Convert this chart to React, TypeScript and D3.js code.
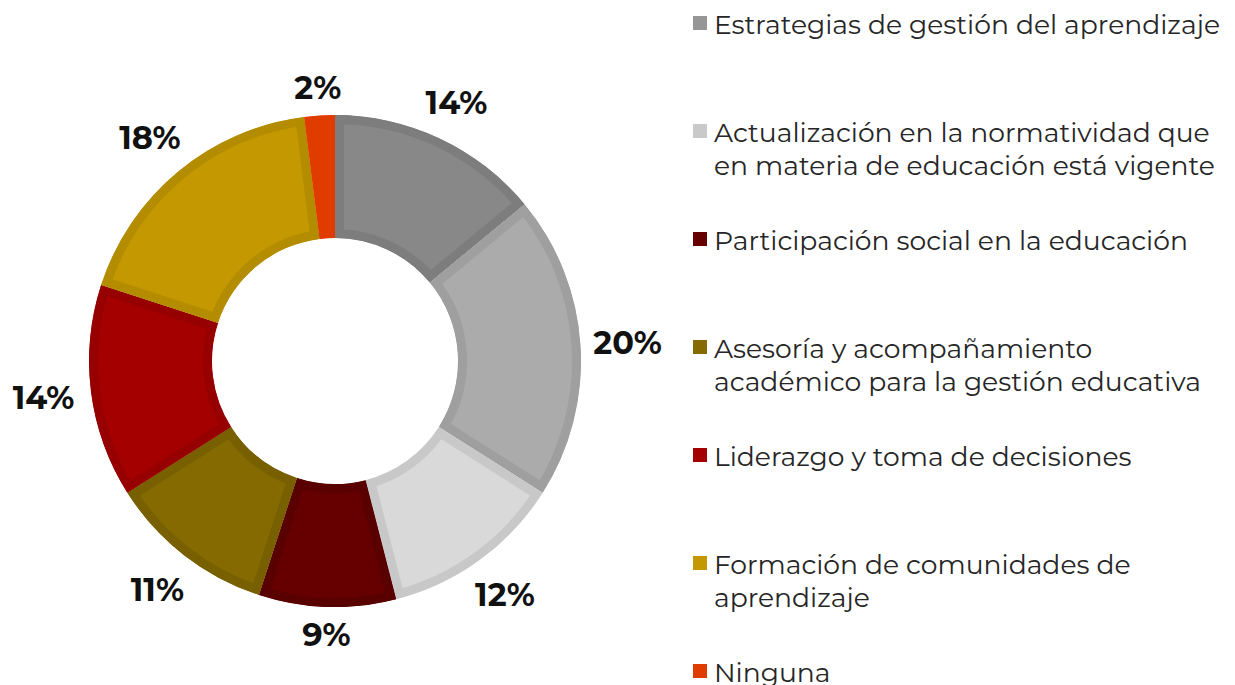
import React from "react";
import * as d3 from "d3";

// Slice data (clockwise from 12 o'clock)
const sliceValues = [14, 20, 12, 9, 11, 14, 18, 2];
const sliceLabels = ["14%", "20%", "12%", "9%", "11%", "14%", "18%", "2%"];
const sliceFills = ["#888888", "#ababab", "#d9d9d9", "#660000", "#846a00", "#a50000", "#c49800", "#e03c00"];
const sliceBorders = ["#7d7d7d", "#9f9f9f", "#c8c8c8", "#590000", "#786000", "#960000", "#b38c00", "#e03c00"];

// Legend entries
const legendLabels = [
  ["Estrategias de gestión del aprendizaje"],
  ["Actualización en la normatividad que", "en materia de educación está vigente"],
  ["Participación social en la educación"],
  ["Asesoría y acompañamiento", "académico para la gestión educativa"],
  ["Liderazgo y toma de decisiones"],
  ["Formación de comunidades de", "aprendizaje"],
  ["Ninguna"],
];
const legendColors = ["#969696", "#c9c9c9", "#660000", "#846a00", "#a50000", "#c49800", "#e03c00"];

const W = 1235;
const H = 685;
const cx = 335;
const cy = 361;
const rOuter = 246;
const rInner = 123;
const borderW = 9;
const labelGap = 15;
const labelFont = 32;

export default function App() {
  const pie = d3.pie<number>().sort(null).value((d) => d)(sliceValues);
  const arc = d3.arc<d3.PieArcDatum<number>>().innerRadius(rInner).outerRadius(rOuter);

  const legendX = 693;
  const legendY0 = 24;
  const legendStep = 108;
  const lineH = 33;

  return (
    <div style={{ position: "absolute", left: 0, top: 0 }}>
      <svg width={W} height={H} style={{ display: "block", background: "#fff" }}>
        <g transform={`translate(${cx},${cy})`}>
          <defs>
            {pie.map((p, i) => (
              <clipPath id={`clip-${i}`} key={i}>
                <path d={arc(p) || ""} />
              </clipPath>
            ))}
          </defs>
          {pie.map((p, i) => (
            <path
              key={i}
              d={arc(p) || ""}
              fill={sliceFills[i]}
              stroke={sliceBorders[i]}
              strokeWidth={borderW * 2}
              clipPath={`url(#clip-${i})`}
            />
          ))}
          <g fontFamily="Montserrat, 'DejaVu Sans', sans-serif" fontWeight="bold" fontSize={labelFont} fill="#111">
            {pie.map((p, i) => {
              const a = (p.startAngle + p.endAngle) / 2;
              const s = Math.sin(a);
              const c = Math.cos(a);
              const w = sliceLabels[i].length * 21;
              const h = 24;
              const d = rOuter + labelGap + Math.abs(s) * (w / 2) + Math.abs(c) * (h / 2);
              return (
                <text key={i} x={s * d} y={-c * d} textAnchor="middle" dominantBaseline="central">
                  {sliceLabels[i]}
                </text>
              );
            })}
          </g>
        </g>
        <g fontFamily="Montserrat, 'DejaVu Sans', sans-serif" fontSize={26.6} fill="#262626">
          {legendLabels.map((lines, i) => {
            const y = legendY0 + i * legendStep;
            return (
              <g key={i}>
                <rect x={legendX} y={y - 8} width={14} height={14} fill={legendColors[i]} />
                {lines.map((ln, j) => (
                  <text key={j} x={legendX + 21} y={y + j * lineH} dominantBaseline="central">
                    {ln}
                  </text>
                ))}
              </g>
            );
          })}
        </g>
      </svg>
    </div>
  );
}
